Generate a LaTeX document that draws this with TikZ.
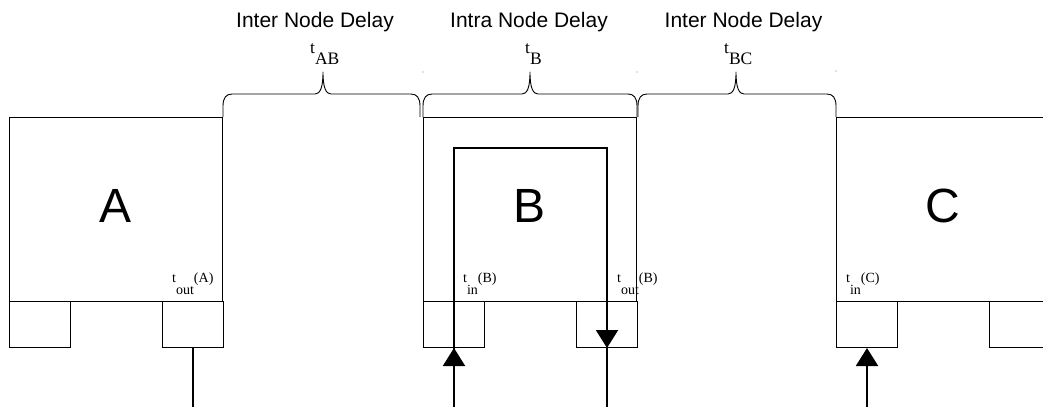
\documentclass[tikz,border=0pt]{standalone}
\usepackage{fontspec}
\setmainfont{Liberation Sans}
\newfontfamily\seriffam{Liberation Serif}
\usetikzlibrary{arrows.meta,calc}
\newcommand\bracedraw[3]{%
  \draw[bracestyle] (#1,-117) -- (#1,-106)
    .. controls (#1,-98) and ({#1+3},-94) .. ({#1+9},-94)
    -- ({#3-8},-94)
    .. controls ({#3-3},-94) and (#3,-88) .. (#3,-72)
    .. controls (#3,-88) and ({#3+3},-94) .. ({#3+8},-94)
    -- ({#2-9},-94)
    .. controls ({#2-3},-94) and (#2,-98) .. (#2,-106) -- (#2,-117);}
\begin{document}
\begin{tikzpicture}[x=1pt,y=1pt,
  box/.style={draw, line width=1pt, minimum width=213pt, minimum height=184pt,
    inner sep=0pt, font=\fontsize{48}{48}\selectfont, text depth=7pt},
  port/.style={draw, line width=1pt, minimum width=61pt, minimum height=46pt,
    inner sep=0pt, anchor=north west},
  head/.style={font=\fontsize{21}{24}\selectfont, anchor=base, inner sep=0pt},
  tlab/.style={font=\seriffam\fontsize{17.5}{20}\selectfont, anchor=base west, inner sep=0pt},
  plab/.style={font=\seriffam\fontsize{14}{16}\selectfont, anchor=base west, inner sep=0pt},
  flow/.style={line width=2pt},
  tipflow/.style={line width=2pt, -{Triangle[length=18pt,width=22pt]}},
  bracestyle/.style={line width=0.9pt, line join=round},
]
\useasboundingbox (0,0) rectangle (1043,-407);
\clip (0,0) rectangle (1043,-407);

% main boxes
\node[box] (A) at (115.5,-209) {A};
\node[box] (B) at (530,-209) {B};
\node[box] (C) at (942.5,-209) {C};

% ports
\node[port] (pA1) at (9,-301) {};
\node[port] (pA2) at (162,-301) {};
\node[port] (pB1) at (423,-301) {};
\node[port] (pB2) at (576,-301) {};
\node[port] (pC1) at (836,-301) {};
\node[port] (pC2) at (989,-301) {};

% free ends and loop corners
\coordinate (aout) at (pA2.south |- 0,-407);
\coordinate (bin) at (pB1.south |- 0,-407);
\coordinate (bout) at (pB2.south |- 0,-407);
\coordinate (cin) at (pC1.south |- 0,-407);
\coordinate (loopL) at (pB1.south |- 0,-148);
\coordinate (loopR) at (pB2.south |- 0,-148);

% connectors
\draw[flow] (pA2.south) -- (aout);
\draw[flow] (bin) -- (loopL) -- (loopR) -- (bout);
\draw[tipflow] (bin) -- (pB1.south);
\draw[tipflow] (loopR) -- (pB2.south);
\draw[tipflow] (cin) -- (pC1.south);

% braces
\bracedraw{223}{420}{323}
\bracedraw{423}{637}{530}
\bracedraw{638}{836}{736}
\fill[gray] (423,-72) circle (0.6);
\fill[gray] (637,-72) circle (0.6);
\fill[gray] (836,-71) circle (0.6);

% headers
\node[head] (h1) at (315,-27) {Inter Node Delay};
\node[head] (h2) at (529,-27) {Intra Node Delay};
\node[head] (h3) at (743.5,-27) {Inter Node Delay};

% delay labels
\node[tlab] (tab) at (310,-53) {t\raisebox{-11pt}{AB}};
\node[tlab] (tb) at (525,-53) {t\raisebox{-11pt}{B}};
\node[tlab] (tbc) at (724,-53) {t\raisebox{-11pt}{BC}};

% port labels
\node[plab] (la) at (172,-282) {t\raisebox{-12pt}{out}(A)};
\node[plab] (lb1) at (463,-282) {t\raisebox{-12pt}{in}(B)};
\node[plab] (lb2) at (617,-282) {t\raisebox{-12pt}{out}(B)};
\node[plab] (lc) at (846,-282) {t\raisebox{-12pt}{in}(C)};
\end{tikzpicture}
\end{document}
